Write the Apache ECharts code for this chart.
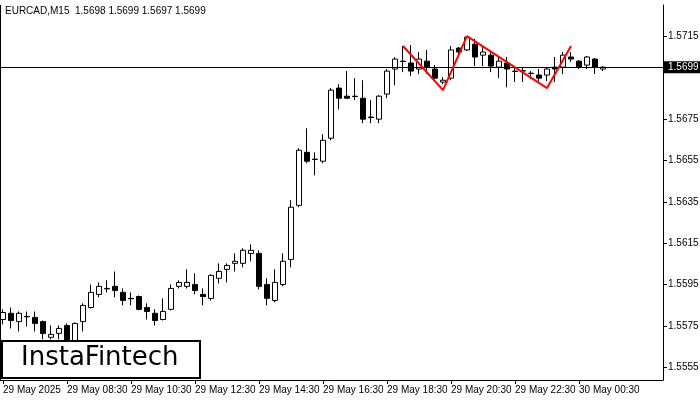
<!DOCTYPE html>
<html><head><meta charset="utf-8">
<script src="https://cdn.jsdelivr.net/npm/echarts@6/dist/echarts.min.js"></script>
<style>html,body{margin:0;padding:0;background:#fff}#c{width:700px;height:400px}</style>
</head><body><div id="c"></div>
<script>
// [open, close, low, high]
const candles = [
[1.55782,1.55816,1.55758,1.55831],[1.55812,1.55777,1.55739,1.55840],[1.55772,1.55812,1.55724,1.55821],[1.55797,1.55795,1.55748,1.55821],
[1.55792,1.55763,1.55724,1.55821],[1.55772,1.55715,1.55686,1.55777],[1.55696,1.55710,1.55686,1.55753],[1.55715,1.55739,1.55686,1.55753],
[1.55753,1.55676,1.55662,1.55763],[1.55676,1.55763,1.55662,1.55768],[1.55772,1.55850,1.55724,1.55860],[1.55840,1.55913,1.55835,1.55951],
[1.55903,1.55942,1.55889,1.55961],[1.55932,1.55930,1.55913,1.55971],[1.55942,1.55922,1.55889,1.56014],[1.55913,1.55874,1.55850,1.55932],
[1.55884,1.55882,1.55850,1.55913],[1.55893,1.55831,1.55826,1.55898],[1.55840,1.55821,1.55782,1.55860],[1.55812,1.55777,1.55753,1.55831],
[1.55782,1.55821,1.55777,1.55884],[1.55831,1.55932,1.55826,1.55951],[1.55942,1.55961,1.55932,1.55971],[1.55942,1.55961,1.55932,1.56024],
[1.55951,1.55922,1.55903,1.56005],[1.55903,1.55893,1.55850,1.55932],[1.55884,1.55995,1.55874,1.56000],[1.55981,1.56014,1.55956,1.56053],
[1.56024,1.56043,1.55961,1.56053],[1.56053,1.56063,1.56014,1.56101],[1.56053,1.56116,1.56034,1.56126],[1.56101,1.56116,1.56063,1.56145],
[1.56101,1.55942,1.55927,1.56116],[1.55951,1.55884,1.55850,1.55981],[1.55874,1.55961,1.55865,1.56024],[1.55951,1.56063,1.55942,1.56101],
[1.56072,1.56324,1.56034,1.56358],[1.56333,1.56599,1.56324,1.56609],[1.56589,1.56546,1.56536,1.56705],[1.56556,1.56554,1.56478,1.56589],
[1.56546,1.56647,1.56536,1.56676],[1.56657,1.56889,1.56647,1.56899],[1.56899,1.56850,1.56797,1.56918],[1.56860,1.56850,1.56850,1.56981],
[1.56860,1.56858,1.56841,1.56947],[1.56850,1.56749,1.56730,1.56937],[1.56759,1.56757,1.56730,1.56841],[1.56749,1.56860,1.56730,1.56865],
[1.56870,1.56981,1.56850,1.56991],[1.56991,1.57039,1.56913,1.57049],[1.57029,1.57027,1.56976,1.57102],[1.57020,1.56981,1.56957,1.57107],
[1.56991,1.57039,1.56967,1.57073],[1.57029,1.57000,1.56967,1.57083],[1.56991,1.56947,1.56942,1.57010],[1.56928,1.56937,1.56918,1.56952],
[1.56947,1.57083,1.56937,1.57102],[1.57092,1.57073,1.57063,1.57097],[1.57083,1.57145,1.57078,1.57150],[1.57111,1.57049,1.57005,1.57136],
[1.57058,1.57073,1.57005,1.57097],[1.57058,1.57005,1.56976,1.57073],[1.57000,1.57029,1.56947,1.57054],[1.57020,1.56991,1.56903,1.57049],
[1.56981,1.56979,1.56928,1.57005],[1.56981,1.56983,1.56928,1.57000],[1.56971,1.56969,1.56942,1.56981],[1.56962,1.56947,1.56932,1.56991],
[1.56962,1.56991,1.56932,1.57000],[1.57000,1.56991,1.56928,1.57049],[1.57000,1.57058,1.56967,1.57073],[1.57049,1.57039,1.57025,1.57073],
[1.57029,1.57000,1.56991,1.57034],[1.57010,1.57049,1.56991,1.57054],[1.57039,1.57000,1.56967,1.57044],[1.56991,1.57000,1.56981,1.57005]
];
const xTickLabels = ['29 May 2025','29 May 08:30','29 May 10:30','29 May 12:30','29 May 14:30','29 May 16:30','29 May 18:30','29 May 20:30','29 May 22:30','30 May 00:30'];
const yTicks = [1.5555,1.5575,1.5595,1.5615,1.5635,1.5655,1.5675,1.5715];
const patternIdx = [50,55,58,68,71];
const patternVals = [1.57102,1.56889,1.57150,1.56899,1.57102];
const currentPrice = 1.5699;
const titleText = 'EURCAD,M15  1.5698 1.5699 1.5697 1.5699';

const nCats = 83;
const cats = [];
for (let i = 0; i < nCats; i++) cats.push(i % 8 === 0 && i / 8 < xTickLabels.length ? xTickLabels[i / 8] : '');
const pattern = cats.map(() => null);
patternIdx.forEach((k, j) => pattern[k] = patternVals[j]);

const FONT = 'Liberation Sans';
const chart = echarts.init(document.getElementById('c'));
chart.setOption({
  animation: false,
  backgroundColor: '#fff',
  grid: { left: -1, right: 37, top: 5, bottom: 20, containLabel: false, outerBoundsMode: 'none' },
  xAxis: {
    type: 'category', data: cats, boundaryGap: true,
    axisLine: { lineStyle: { color: '#000', width: 1 } },
    axisTick: { show: true, interval: i => cats[i] !== '', lineStyle: { color: '#000' }, length: 4, alignWithLabel: true },
    axisLabel: { interval: i => cats[i] !== '', hideOverlap: false, showMinLabel: true, showMaxLabel: true, color: '#000', fontSize: 10, fontFamily: FONT, align: 'left', margin: 5 },
    splitLine: { show: false }
  },
  yAxis: {
    type: 'value', position: 'right', min: 1.5549, max: 1.5730, scale: true,
    axisLine: { show: true, lineStyle: { color: '#000' } },
    axisTick: { show: true, customValues: yTicks, lineStyle: { color: '#000' }, length: 4 },
    axisLabel: { customValues: yTicks, color: '#000', fontSize: 10, fontFamily: FONT, margin: 5, formatter: v => v.toFixed(4) },
    splitLine: { show: false }
  },
  graphic: [
    { type: 'line', shape: { x1: 0.5, y1: 5, x2: 0.5, y2: 380 }, style: { stroke: '#000', lineWidth: 1 } },
    { type: 'text', left: 5, top: 6, style: { text: titleText, fill: '#000', font: '10px "Liberation Sans"' } },
    { type: 'rect', shape: { x: 2, y: 341, width: 198, height: 37 }, style: { fill: '#fff', stroke: '#000', lineWidth: 2 }, z: 100 },
    { type: 'text', left: 21, top: 345, style: { text: 'InstaFintech', fill: '#000', font: '500 26px "DejaVu Sans"' }, z: 101 }
  ],
  series: [
    {
      type: 'candlestick', data: candles, barWidth: 5,
      itemStyle: { color: '#fff', color0: '#000', borderColor: '#000', borderColor0: '#000', borderWidth: 1 },
      markLine: {
        symbol: 'none', silent: true,
        lineStyle: { color: '#000', type: 'solid', width: 1 },
        label: { position: 'end', formatter: currentPrice.toFixed(4), color: '#fff', backgroundColor: '#000', fontSize: 10, padding: [1, 4], distance: 1, fontFamily: FONT },
        data: [{ yAxis: currentPrice }]
      }
    },
    {
      type: 'line', data: pattern, connectNulls: true, symbol: 'none',
      lineStyle: { color: '#ff0000', width: 2 }, z: 5
    }
  ]
});
</script></body></html>
